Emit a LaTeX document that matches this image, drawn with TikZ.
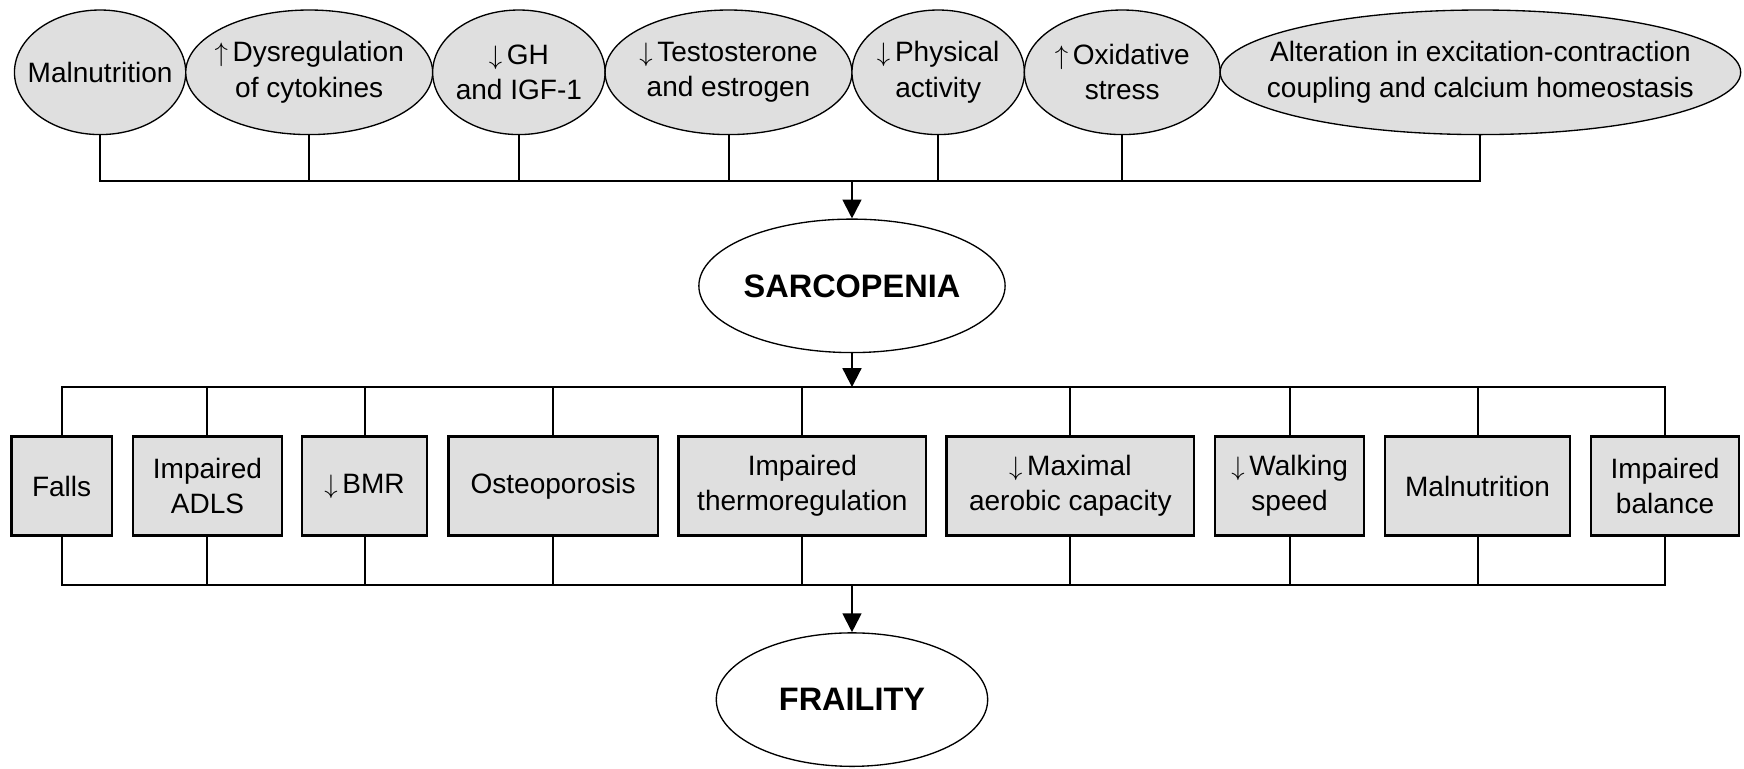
\documentclass[tikz,border=0pt]{standalone}
\usepackage{fontspec}
\setmainfont{Liberation Sans}
\usetikzlibrary{arrows.meta,shapes.geometric}
\newcommand{\upar}{$\uparrow$}
\newcommand{\dnar}{$\downarrow$}
\tikzset{
  cause/.style={ellipse, draw=black, line width=0.6pt, fill=gray!25, inner sep=0pt, minimum height=56pt},
  txt/.style={inner sep=0pt, align=center, font=\fontsize{12.6}{15.8}\selectfont},
  effect/.style={rectangle, draw=black, line width=1pt, fill=gray!25, inner sep=0pt, align=center, minimum height=44.5pt, font=\fontsize{12.6}{15.8}\selectfont},
  hubnode/.style={ellipse, draw=black, line width=0.6pt, fill=white, inner sep=0pt, minimum width=122pt, minimum height=60pt, font=\fontsize{14.6}{17}\selectfont\bfseries},
  conn/.style={line width=0.9pt},
  arr/.style={conn, -{Triangle[length=8.5pt,width=8.5pt]}}
}
\begin{document}
\begin{tikzpicture}[x=0.5pt,y=-0.5pt]
\useasboundingbox (0,0) rectangle (1568,691);
% causes
\node[cause, minimum width=77pt]  (mal)  at (90,65)   {};
\node[cause, minimum width=111pt] (dys)  at (278,65)  {};
\node[cause, minimum width=77.5pt](gh)   at (466.5,65){};
\node[cause, minimum width=111pt] (tes)  at (655,65)  {};
\node[cause, minimum width=77.5pt](phy)  at (843.5,65){};
\node[cause, minimum width=88pt]  (oxi)  at (1009,65) {};
\node[cause, minimum width=234pt] (alt)  at (1331,65) {};
\node[txt] (malT) at (mal) {Malnutrition};
\node[txt] (dysT) at (dys) {\upar\,Dysregulation\\of cytokines};
\node[txt] (ghT)  at (gh)  {\dnar\,GH\\and IGF-1};
\node[txt] (tesT) at (tes) {\dnar\,Testosterone\\and estrogen};
\node[txt] (phyT) at (phy) {\dnar\,Physical\\activity};
\node[txt] (oxiT) at (oxi) {\upar\,Oxidative\\stress};
\node[txt] (altT) at (alt) {Alteration in excitation-contraction\\coupling and calcium homeostasis};
% hubs
\node[hubnode] (sarc) at (766,257) {SARCOPENIA};
\node[hubnode] (frail) at (766,629) {FRAILITY};
\coordinate (h1) at (766,163);
\coordinate (h2) at (766,348);
\coordinate (h3) at (766,526);
% effects
\node[effect, minimum width=45.1pt]  (falls) at (55.4,437)   {Falls};
\node[effect, minimum width=67.1pt]  (adls)  at (186.5,437)  {Impaired\\ADLS};
\node[effect, minimum width=55.95pt] (bmr)   at (327.75,437) {\dnar\,BMR};
\node[effect, minimum width=94pt]    (ost)   at (497.3,437)  {Osteoporosis};
\node[effect, minimum width=111.4pt] (ther)  at (721.4,437)  {Impaired\\thermoregulation};
\node[effect, minimum width=111.3pt] (maxa)  at (962.3,437)  {\dnar\,Maximal\\aerobic capacity};
\node[effect, minimum width=66.9pt]  (walk)  at (1159.5,437) {\dnar\,Walking\\speed};
\node[effect, minimum width=82.9pt]  (maln)  at (1328.4,437) {Malnutrition};
\node[effect, minimum width=66.5pt]  (bal)   at (1497,437)   {Impaired\\balance};
% top connectors
\draw[conn] (mal.south) -- (mal.south |- h1) -- (alt.south |- h1) -- (alt.south);
\foreach \n in {dys,gh,tes,phy,oxi} \draw[conn] (\n.south) -- (\n.south |- h1);
\draw[arr] (h1) -- (sarc.north);
% middle connectors
\draw[arr] (sarc.south) -- (h2);
\draw[conn] (falls.north) -- (falls.north |- h2) -- (bal.north |- h2) -- (bal.north);
\foreach \n in {adls,bmr,ost,ther,maxa,walk,maln} \draw[conn] (\n.north) -- (\n.north |- h2);
% bottom connectors
\draw[conn] (falls.south) -- (falls.south |- h3) -- (bal.south |- h3) -- (bal.south);
\foreach \n in {adls,bmr,ost,ther,maxa,walk,maln} \draw[conn] (\n.south) -- (\n.south |- h3);
\draw[arr] (h3) -- (frail.north);
\end{tikzpicture}
\end{document}
